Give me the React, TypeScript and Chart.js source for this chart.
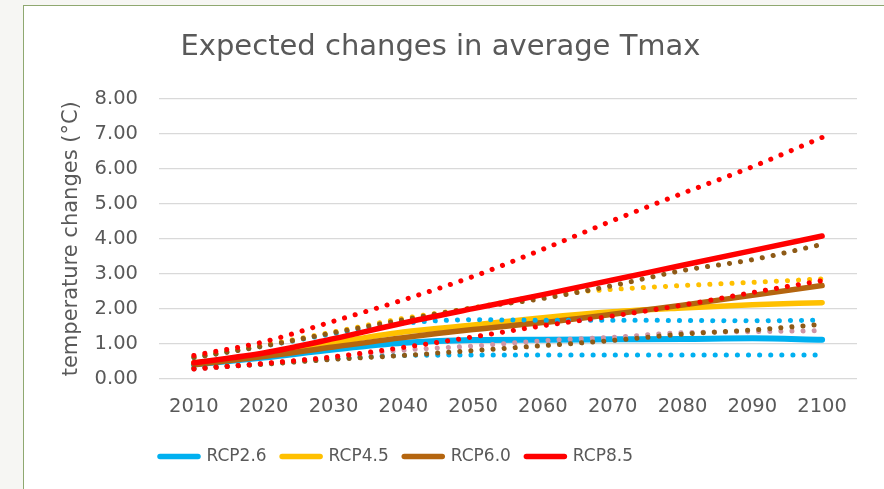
import React, { useEffect, useRef } from 'react';
import { Chart, registerables } from 'chart.js';

Chart.register(...registerables);

// ---- data ----
const years = ['2010', '2020', '2030', '2040', '2050', '2060', '2070', '2080', '2090', '2100'];

const rcp26 = [0.40, 0.60, 0.83, 1.02, 1.10, 1.11, 1.12, 1.13, 1.15, 1.11];
const rcp45 = [0.45, 0.67, 1.02, 1.33, 1.53, 1.74, 1.91, 2.02, 2.11, 2.17];
const rcp60 = [0.40, 0.63, 0.90, 1.17, 1.40, 1.60, 1.84, 2.10, 2.38, 2.66];
const rcp85 = [0.45, 0.73, 1.14, 1.59, 2.00, 2.40, 2.82, 3.24, 3.66, 4.08];

const rcp26Max = [0.60, 0.93, 1.28, 1.58, 1.68, 1.67, 1.67, 1.66, 1.65, 1.67];
const rcp26Min = [0.28, 0.42, 0.56, 0.66, 0.67, 0.67, 0.67, 0.67, 0.67, 0.67];
const rcp45Max = [0.62, 0.95, 1.33, 1.72, 2.02, 2.38, 2.55, 2.66, 2.75, 2.85];
const rcp45Min = [0.28, 0.42, 0.62, 0.81, 0.93, 1.08, 1.18, 1.31, 1.34, 1.37];
const rcp60Max = [0.60, 0.93, 1.31, 1.68, 2.02, 2.29, 2.66, 3.09, 3.40, 3.84];
const rcp60Min = [0.30, 0.41, 0.55, 0.66, 0.80, 0.94, 1.09, 1.27, 1.39, 1.55];
const rcp85Max = [0.66, 1.05, 1.64, 2.25, 2.92, 3.70, 4.52, 5.30, 6.06, 6.90];
const rcp85Min = [0.27, 0.43, 0.62, 0.89, 1.19, 1.51, 1.79, 2.10, 2.46, 2.80];

const yTicks = [0, 1, 2, 3, 4, 5, 6, 7, 8];

const TITLE = 'Expected changes in average Tmax';
const Y_TITLE = 'temperature changes (°C)';

// ---- styles ----
const BLUE = '#00B0F0';
const YELLOW = '#FFC000';
const BROWN = '#B4650F';
const RED = '#FF0000';
const BROWN_DOT = '#8E5A16';
const PINK = '#CF95A5';
const TEXT = '#595959';
const FONT = "'DejaVu Sans', sans-serif";

const legendShift = {
  id: 'legendShift',
  afterLayout(chart: any) {
    const lg = chart.legend;
    if (!lg) return;
    const pad = lg.options.labels.padding;
    const target = chart.chartArea.left + 1 - pad;
    const dx = target - lg.left;
    lg.left += dx;
    lg.right += dx;
  },
};

export default function App() {
  const ref = useRef<HTMLCanvasElement>(null);

  useEffect(() => {
    const canvas = ref.current;
    if (!canvas) return;

    const solid = (label: string, data: number[], color: string, order: number, width = 5.5) => ({
      label,
      data,
      borderColor: color,
      backgroundColor: color,
      borderWidth: width,
      borderCapStyle: 'round',
      borderJoinStyle: 'round',
      pointRadius: 0,
      pointHoverRadius: 0,
      fill: false,
      order,
      cubicInterpolationMode: 'monotone',
    });
    const dotted = (label: string, data: number[], color: string, order: number) => ({
      ...solid(label, data, color, order, 5),
      borderDash: [0.1, 11],
    });

    const chart = new Chart(canvas, {
      type: 'line',
      data: {
        labels: years,
        datasets: [
          solid('RCP2.6', rcp26, BLUE, 12, 6),
          solid('RCP4.5', rcp45, YELLOW, 11),
          solid('RCP6.0', rcp60, BROWN, 10),
          solid('RCP8.5', rcp85, RED, 0),
          dotted('RCP8.5 max', rcp85Max, RED, 1),
          dotted('RCP8.5 min', rcp85Min, RED, 2),
          dotted('RCP6.0 max', rcp60Max, BROWN_DOT, 3),
          dotted('RCP6.0 min', rcp60Min, BROWN_DOT, 4),
          dotted('RCP4.5 min', rcp45Min, PINK, 5),
          dotted('RCP4.5 max', rcp45Max, YELLOW, 6),
          dotted('RCP2.6 max', rcp26Max, BLUE, 7),
          dotted('RCP2.6 min', rcp26Min, BLUE, 8),
        ] as any,
      },
      options: {
        animation: false,
        responsive: false,
        maintainAspectRatio: false,
        layout: { padding: { left: 0, right: 27, top: 0, bottom: 14 } },
        font: { family: FONT },
        plugins: {
          title: {
            display: true,
            text: TITLE,
            color: TEXT,
            font: { family: FONT, size: 29, weight: 'normal' },
            padding: { top: 23.6, bottom: 34.6 },
          },
          legend: {
            display: true,
            position: 'bottom',
            align: 'start',
            labels: {
              color: TEXT,
              font: { family: FONT, size: 17 },
              usePointStyle: true,
              pointStyleWidth: 38,
              boxHeight: 17,
              padding: 15.5,
              generateLabels: (c: any) =>
                c.data.datasets.slice(0, 4).map((ds: any, i: number) => ({
                  text: ds.label,
                  datasetIndex: i,
                  strokeStyle: ds.borderColor,
                  fillStyle: ds.borderColor,
                  lineWidth: 5.5,
                  lineCap: 'round',
                  pointStyle: 'line',
                  hidden: false,
                  fontColor: TEXT,
                })),
            },
          },
          tooltip: { enabled: false },
        },
        scales: {
          x: {
            offset: true,
            grid: { display: false, drawTicks: false },
            border: { display: false },
            ticks: {
              color: TEXT,
              font: { family: FONT, size: 19.5 },
              padding: 17,
              maxRotation: 0,
              autoSkip: false,
            },
            afterFit: (s: any) => {
              s.height = 54;
            },
          },
          y: {
            min: yTicks[0],
            max: yTicks[yTicks.length - 1],
            afterBuildTicks: (s: any) => {
              s.ticks = yTicks.map((v) => ({ value: v }));
            },
            ticks: {
              color: TEXT,
              font: { family: FONT, size: 19.5 },
              padding: 21,
              callback: (v: any) => Number(v).toFixed(2),
            },
            grid: { color: '#D9D9D9', lineWidth: 1.3, drawTicks: false },
            border: { display: false },
            title: {
              display: true,
              text: Y_TITLE,
              color: TEXT,
              font: { family: FONT, size: 21 },
              padding: { top: 35, bottom: 0 },
            },
            afterFit: (s: any) => {
              s.width = 135;
            },
          },
        },
      } as any,
      plugins: [legendShift],
    });

    return () => chart.destroy();
  }, []);

  return (
    <div
      style={{
        position: 'fixed',
        left: 0,
        top: 0,
        width: 884,
        height: 489,
        background: '#F6F6F3',
        overflow: 'hidden',
      }}
    >
      <div
        style={{
          position: 'absolute',
          left: 23,
          top: 5,
          width: 861,
          height: 484,
          background: '#FFFFFF',
          borderLeft: '1.5px solid #8FA870',
          borderTop: '1.5px solid #8FA870',
          boxSizing: 'border-box',
        }}
      />
      <canvas
        ref={ref}
        width={860}
        height={483}
        style={{ position: 'absolute', left: 24, top: 6, width: 860, height: 483 }}
      />
    </div>
  );
}
